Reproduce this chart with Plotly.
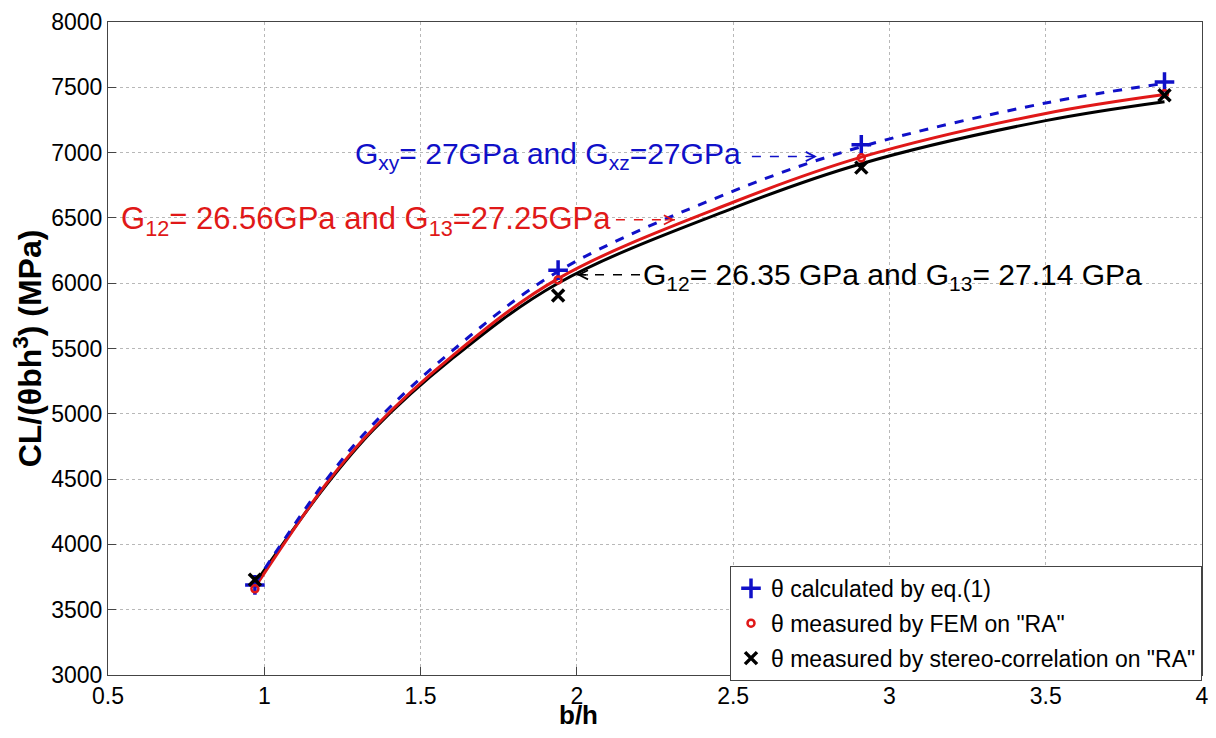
import plotly.graph_objects as go

# Curves
curve_x = [0.97, 1.2, 1.35, 1.6, 1.94, 2.5, 2.91, 3.5, 3.88]
curve_blue = [3700, 4500, 4925, 5480, 6090, 6705, 7045, 7380, 7530]
curve_red = [3670, 4470, 4890, 5440, 6035, 6620, 6965, 7300, 7445]
curve_black = [3700, 4460, 4880, 5420, 6000, 6575, 6915, 7245, 7390]

# Measured / calculated points
pts_x = [0.97, 1.94, 2.91, 3.88]
pts_calc = [3690, 6100, 7060, 7540]
pts_fem = [3660, 6025, 6960, 7450]
pts_stereo = [3730, 5905, 6885, 7440]

x_ticks = [0.5, 1, 1.5, 2, 2.5, 3, 3.5, 4]
x_tick_labels = ["0.5", "1", "1.5", "2", "2.5", "3", "3.5", "4"]
y_ticks = [3000, 3500, 4000, 4500, 5000, 5500, 6000, 6500, 7000, 7500, 8000]

BLUE = "#1010c8"
RED = "#e01818"
BLACK = "#000000"
FONT = "Liberation Sans, Arial, sans-serif"

fig = go.Figure()
fig.add_trace(go.Scatter(x=curve_x, y=curve_black, mode="lines", line=dict(color=BLACK, width=3, shape="spline"), showlegend=False))
fig.add_trace(go.Scatter(x=curve_x, y=curve_red, mode="lines", line=dict(color=RED, width=3, shape="spline"), showlegend=False))
fig.add_trace(go.Scatter(x=curve_x, y=curve_blue, mode="lines", line=dict(color=BLUE, width=3, dash="dash", shape="spline"), showlegend=False))

fig.add_trace(go.Scatter(x=pts_x, y=pts_calc, mode="markers", name="\u03b8 calculated by eq.(1)", legendgroup="a",
                         marker=dict(symbol="cross-thin", size=14, line=dict(color=BLUE, width=3.5), color=BLUE)))
fig.add_trace(go.Scatter(x=pts_x, y=pts_fem, mode="markers", name="\u03b8 measured by FEM on \"RA\"", legendgroup="b",
                         marker=dict(symbol="circle-open", size=7, line=dict(color=RED, width=2.5), color=RED)))
fig.add_trace(go.Scatter(x=pts_x, y=pts_stereo, mode="markers", name="\u03b8 measured by stereo-correlation on \"RA\"", legendgroup="c",
                         marker=dict(symbol="x-thin", size=12, line=dict(color=BLACK, width=3.5), color=BLACK)))

# Annotation texts
fig.add_annotation(x=1.284, y=6976, xref="x", yref="y", xanchor="left", yanchor="middle", showarrow=False,
                   text="G<sub>xy</sub>= 27GPa and G<sub>xz</sub>=27GPa", font=dict(color=BLUE, size=30, family=FONT))
fig.add_annotation(x=0.536, y=6479, xref="x", yref="y", xanchor="left", yanchor="middle", showarrow=False,
                   text="G<sub>12</sub>= 26.56GPa and G<sub>13</sub>=27.25GPa", font=dict(color=RED, size=31, family=FONT))
fig.add_annotation(x=2.204, y=6049, xref="x", yref="y", xanchor="left", yanchor="middle", showarrow=False,
                   text="G<sub>12</sub>= 26.35 GPa and G<sub>13</sub>= 27.14 GPa", font=dict(color=BLACK, size=30, family=FONT))

# Dashed arrows
arrows = [
    (2.56, 2.768, 6970, BLUE),
    (2.125, 2.314, 6485, RED),
    (2.202, 2.0, 6064, BLACK),
]
for x0, x1, yy, col in arrows:
    fig.add_shape(type="line", x0=x0, x1=x1, y0=yy, y1=yy, xref="x", yref="y",
                  line=dict(color=col, width=1.5, dash="dash"))
    fig.add_annotation(x=x1, y=yy, ax=x1 - (x1 - x0) * 0.2, ay=yy, xref="x", yref="y", axref="x", ayref="y",
                       showarrow=True, arrowhead=5, arrowsize=1.5, arrowwidth=1.2, arrowcolor=col, text="")

axis_common = dict(showline=True, linecolor="#444444", linewidth=1, mirror=True,
                   ticks="inside", ticklen=8, tickcolor="#444444", automargin=False,
                   ticklabeloverflow="allow",
                   showgrid=True, gridcolor="#b8b8b8", griddash="dot", gridwidth=1,
                   zeroline=False, tickfont=dict(size=23, color="black", family=FONT))

fig.update_xaxes(range=[0.5, 4], tickvals=x_ticks, ticktext=x_tick_labels, **axis_common)
fig.update_yaxes(range=[3000, 8000], tickvals=y_ticks,
                 title=dict(text="<b>CL/(\u03b8bh<sup>3</sup>) (MPa)</b>", font=dict(size=32, color="black", family=FONT), standoff=2),
                 **axis_common)

# x-axis title (placed where the reference shows it)
fig.add_annotation(x=0.43, y=0, xref="paper", yref="paper", xanchor="center", yanchor="middle",
                   yshift=-40, showarrow=False, text="<b>b/h</b>",
                   font=dict(size=26, color="black", family=FONT))

# The page body adds an 8px margin, so the figure is sized to fit inside the window
fig.update_layout(
    width=1200, height=722,
    margin=dict(l=100, r=6, t=14, b=55, autoexpand=False),
    paper_bgcolor="white", plot_bgcolor="white",
    font=dict(family=FONT, color="black"),
    legend=dict(x=1, y=-0.009, xanchor="right", yanchor="bottom", bgcolor="white",
                bordercolor="#444444", borderwidth=1, font=dict(size=23, color="black", family=FONT),
                tracegroupgap=2, itemwidth=30),
)

fig.write_html("out.html")
